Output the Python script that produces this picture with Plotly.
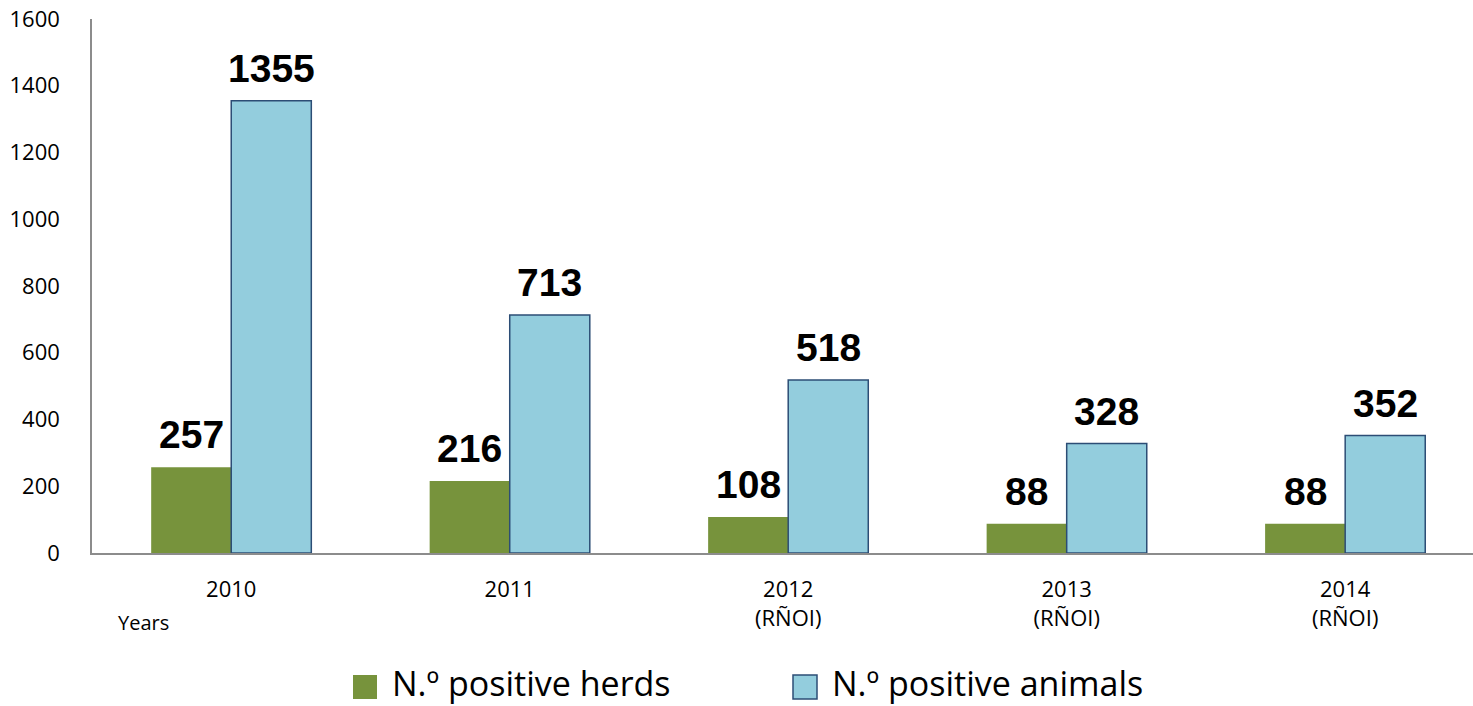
import plotly.graph_objects as go

years = ["2010", "2011", "2012<br>(RÑOI)", "2013<br>(RÑOI)", "2014<br>(RÑOI)"]
herds = [257, 216, 108, 88, 88]
animals = [1355, 713, 518, 328, 352]
y_ticks = [0, 200, 400, 600, 800, 1000, 1200, 1400, 1600]
series_names = ["N.º positive herds", "N.º positive animals"]

GREEN = "#77933C"
BLUE = "#93CDDD"
BLUE_EDGE = "#2C4D75"
LABEL_FONT = dict(family="Liberation Sans Narrow, Arial Narrow, Liberation Sans, Arial", size=39, color="black")
TICK_FONT = dict(family="Open Sans, Noto Sans, sans-serif", size=22, color="black")

L, R, T, B, W, H = 92, 0, 19, 153, 1473, 706
PW, PH = W - L - R, H - T - B


def px(x):
    return (x - L) / PW


def py(y):
    return (H - B - y) / PH


fig = go.Figure()
fig.add_trace(go.Bar(x=years, y=herds, name=series_names[0],
                     marker=dict(color=GREEN, line=dict(width=0)),
                     showlegend=False, hoverinfo="y"))
fig.add_trace(go.Bar(x=years, y=animals, name=series_names[1],
                     marker=dict(color=BLUE, line=dict(color=BLUE_EDGE, width=1.5)),
                     showlegend=False, hoverinfo="y"))

annotations = []
for i, (h, a) in enumerate(zip(herds, animals)):
    annotations.append(dict(x=i, y=h, xref="x", yref="y", text=f"<b>{h}</b>", showarrow=False,
                            xshift=-40, yanchor="bottom", yshift=9, font=LABEL_FONT))
    annotations.append(dict(x=i, y=a, xref="x", yref="y", text=f"<b>{a}</b>", showarrow=False,
                            xshift=40, yanchor="bottom", yshift=9, font=LABEL_FONT))
annotations.append(dict(x=px(143), y=py(622), xref="paper", yref="paper", text="Years", showarrow=False,
                        xanchor="center", yanchor="middle",
                        font=dict(family="Open Sans, Noto Sans, sans-serif", size=20, color="black")))

# manual legend (large swatches)
LEG_FONT = dict(family="Open Sans, Noto Sans, sans-serif", size=34, color="black")
shapes = []
legend_items = [(353, 390, GREEN, None, series_names[0]), (793, 830, BLUE, BLUE_EDGE, series_names[1])]
for sx, tx, col, edge, label in legend_items:
    shapes.append(dict(type="rect", xref="paper", yref="paper",
                       x0=px(sx), x1=px(sx + 24), y0=py(699), y1=py(675),
                       fillcolor=col, line=dict(color=edge or col, width=1.5 if edge else 0)))
    annotations.append(dict(x=px(tx), y=py(683), xref="paper", yref="paper", text=label, showarrow=False,
                            xanchor="left", yanchor="middle", font=LEG_FONT))

fig.update_layout(
    width=W, height=H,
    margin=dict(l=L, r=R, t=T, b=B, autoexpand=False),
    paper_bgcolor="white", plot_bgcolor="white",
    barmode="group", bargap=0.425, bargroupgap=0,
    showlegend=False,
    xaxis=dict(type="category", range=[-0.5, 4.459], showline=True, linecolor="#8C8C8C", linewidth=1.5,
               ticks="", showgrid=False, tickfont=TICK_FONT, ticklabelstandoff=16),
    yaxis=dict(range=[0, 1600], tickvals=y_ticks, showline=True, linecolor="#8C8C8C", linewidth=1.5,
               ticks="", showgrid=False, zeroline=False, tickfont=TICK_FONT, ticklabelstandoff=26),
    annotations=annotations,
    shapes=shapes,
    font=dict(family="Open Sans, Noto Sans, sans-serif"),
)

fig.write_html("out.html", config={"displayModeBar": False},
               post_script="document.body.style.margin='0px';document.body.style.overflow='hidden';")
